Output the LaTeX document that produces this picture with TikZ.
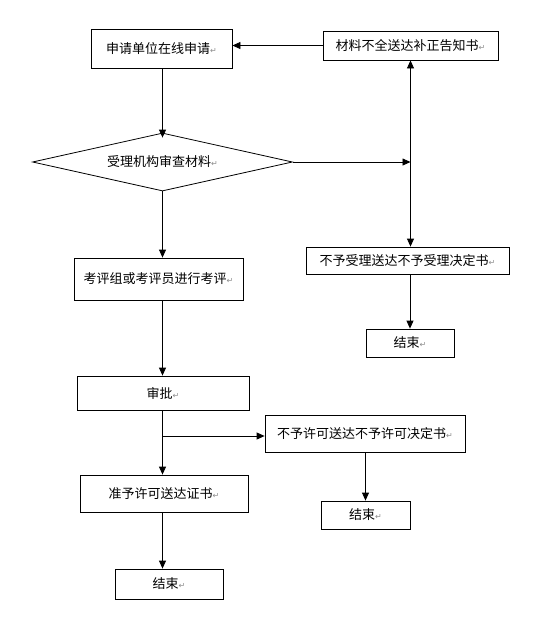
\documentclass[tikz,border=0pt]{standalone}
\usepackage{fontspec}
\setmainfont{Noto Sans CJK SC}
\newfontfamily\symfont{DejaVu Sans}
\usetikzlibrary{arrows.meta,shapes.geometric}
\newcommand{\retmark}{{\symfont\color{black!45}\fontsize{8}{8}\selectfont ↵}}

\begin{document}
\begin{tikzpicture}[x=1pt, y=-1pt, font=\fontsize{13}{15}\selectfont,
    box/.style={draw, line width=0.8pt, inner sep=0pt},
    link/.style={line width=0.8pt, >={Triangle[length=8pt, width=7pt]}, ->}]
  \useasboundingbox (0,0) rectangle (541,622);
  % top row
  \node[box, minimum width=141pt, minimum height=39pt] (apply) at (161.5,48.5) {申请单位在线申请\retmark};
  \node[box, minimum width=175pt, minimum height=29pt] (notify) at (410.5,45.5) {材料不全送达补正告知书\retmark};
  \node[box, diamond, aspect=4.48, minimum width=260pt, minimum height=58pt] (check) at (162.5,162) {受理机构审查材料\retmark};
  % right branch
  \node[box, minimum width=203pt, minimum height=27pt] (refuse) at (407.5,260.5) {不予受理送达不予受理决定书\retmark};
  \node[box, minimum width=88pt, minimum height=28pt] (endA) at (410,343) {结束\retmark};
  % main column
  \node[box, minimum width=169pt, minimum height=42pt] (review) at (158.5,279) {考评组或考评员进行考评\retmark};
  \node[box, minimum width=172pt, minimum height=34pt] (approve) at (163,393) {审批\retmark};
  \node[box, minimum width=200pt, minimum height=37pt] (deny) at (365,433.5) {不予许可送达不予许可决定书\retmark};
  \node[box, minimum width=89pt, minimum height=28pt] (endB) at (365.5,515) {结束\retmark};
  \node[box, minimum width=168pt, minimum height=37pt] (grant) at (164,493.5) {准予许可送达证书\retmark};
  \node[box, minimum width=108pt, minimum height=30pt] (endC) at (169,584) {结束\retmark};
  \coordinate (mid) at (notify.south |- check.east);
  \coordinate (fork) at (162.5,436);
  % connectors
  \draw[link] (notify.west) -- (notify.west -| apply.east);
  \draw[link] (apply.south -| check.north) -- ([yshift=-5pt]check.north);
  \draw[link] (check.east) -- (mid);
  \draw[link, <->] (notify.south) -- (notify.south |- refuse.north);
  \draw[link] (endA.north |- refuse.south) -- (endA.north);
  \foreach \a/\b in {check/review, review/approve, approve/grant, grant/endC}
    \draw[link] (check.south |- \a.south) -- (check.south |- \b.north);
  \draw[link] (fork) -- (fork -| deny.west);
  \draw[link] (deny.south -| endB.north) -- (endB.north);
\end{tikzpicture}
\end{document}
